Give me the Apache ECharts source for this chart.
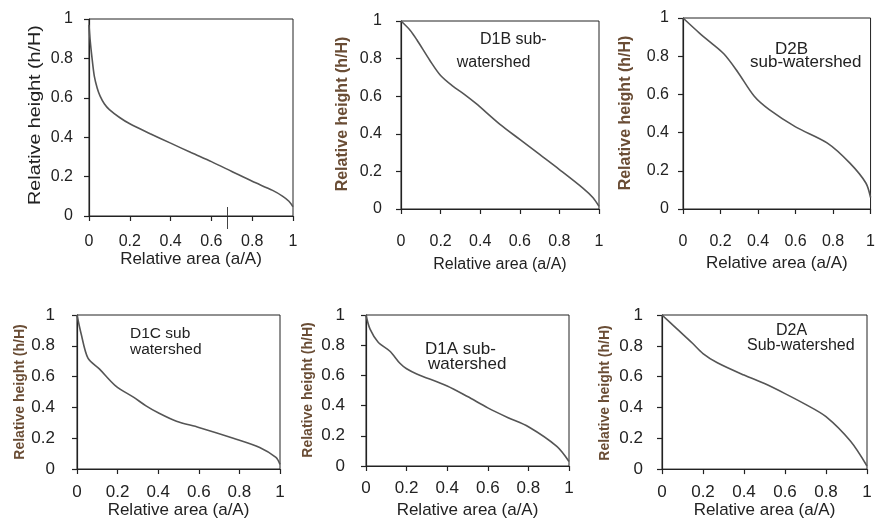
<!DOCTYPE html>
<html><head><meta charset="utf-8">
<script src="https://cdn.jsdelivr.net/npm/echarts@6/dist/echarts.min.js"></script>
<style>html,body{margin:0;padding:0;background:#fff}#c{width:878px;height:520px}</style>
</head><body><div id="c"></div>
<script>
const xTicks = [0, 0.2, 0.4, 0.6, 0.8, 1];
const yTicks = [0, 0.2, 0.4, 0.6, 0.8, 1];
const panelLine1 = ["", "D1B sub-", "D2B", "D1C sub", "D1A sub-", "D2A"];
const panelLine2 = ["", "watershed", "sub-watershed", "watershed", "watershed", "Sub-watershed"];
const xTitle = "Relative area (a/A)";
const yTitle = "Relative height (h/H)";

const p1A = [0,0.005,0.015,0.026,0.04,0.054,0.075,0.1,0.15,0.2,0.3,0.4,0.5,0.6,0.7,0.8,0.9,0.95,0.98,1];
const p1H = [0.97,0.9,0.8,0.71,0.65,0.61,0.57,0.54,0.5,0.468,0.418,0.37,0.322,0.276,0.226,0.176,0.13,0.1,0.075,0.047];
const p2A = [0,0.047,0.08,0.146,0.2,0.26,0.32,0.38,0.5,0.6,0.7,0.8,0.92,0.97,1];
const p2H = [1,0.95,0.90,0.79,0.71,0.655,0.61,0.56,0.45,0.37,0.29,0.21,0.11,0.06,0.014];
const p3A = [0,0.089,0.15,0.22,0.29,0.38,0.46,0.6,0.77,0.89,0.975,1];
const p3H = [1,0.92,0.87,0.81,0.72,0.59,0.52,0.43,0.345,0.24,0.136,0.06];
const p4A = [0,0.02,0.054,0.11,0.19,0.28,0.34,0.4,0.49,0.6,0.77,0.9,0.98,1];
const p4H = [1,0.88,0.72,0.65,0.54,0.465,0.41,0.365,0.31,0.27,0.20,0.14,0.075,0.03];
const p5A = [0,0.02,0.06,0.118,0.167,0.2,0.25,0.4,0.5,0.6,0.7,0.8,0.94,1];
const p5H = [1,0.906,0.82,0.76,0.68,0.644,0.61,0.53,0.46,0.385,0.32,0.26,0.13,0.03];
const p6A = [0,0.073,0.15,0.2,0.27,0.4,0.5,0.6,0.7,0.8,0.92,1];
const p6H = [1,0.91,0.815,0.75,0.69,0.61,0.555,0.49,0.42,0.34,0.18,0.02];

const seriesA = [p1A,p2A,p3A,p4A,p5A,p6A];
const seriesH = [p1H,p2H,p3H,p4H,p5H,p6H];

const FONT = "Liberation Sans";
const BROWN = "#6a4d35";
// layout
const grids = [
  {left:89, top:19, width:204, height:197},
  {left:401, top:21, width:198, height:188},
  {left:683, top:18, width:197, height:191},
  {left:77, top:315, width:203, height:156},
  {left:366, top:315, width:203, height:159},
  {left:662, top:315, width:205, height:157}
];
const tickFont = [16, 16, 16, 17, 17, 17];
const titleFont = [17, 16, 17, 17, 17, 17];
const xLabelMargin = [18, 25, 25, 15, 14, 15];
const xNameGap = [34, 48, 46, 33, 36, 32];
const yLabelMargin = [16, 19, 14, 22, 21, 19];
// y title: center x, center y, font size, weight, scaleX, color
const yTitlePos = [
  [35.7, 115, 17, 'normal', 1.16, '#222'],
  [342.5, 114, 16, 'bold', 1.0, BROWN],
  [625.7, 113, 16, 'bold', 1.0, BROWN],
  [20, 392, 14, 'bold', 1.0, BROWN],
  [308, 390, 14, 'bold', 1.0, BROWN],
  [605, 393, 14, 'bold', 1.0, BROWN]
];
// annotation lines: [x1, y1, x2, y2, fontSize]
const annotPos = [null,
  [480, 39.4, 456.7, 62.4, 16],
  [775, 49, 750, 62.3, 17],
  [130, 334, 130, 349.6, 15.5],
  [425, 349, 428, 364, 17],
  [776, 330.4, 747, 346, 16]
];

const graphics = [];
yTitlePos.forEach(p => {
  graphics.push({type:'text', x:p[0], y:p[1], rotation:Math.PI/2, scaleX:p[4], silent:true,
    style:{text:yTitle, fontFamily:FONT, fontSize:p[2], fontWeight:p[3], fill:p[5], align:'center', verticalAlign:'middle'}});
});
annotPos.forEach((p,i) => {
  if (!p) return;
  graphics.push({type:'text', x:p[0], y:p[1], silent:true,
    style:{text:panelLine1[i], fontFamily:FONT, fontSize:p[4], fill:'#222', align:'left', verticalAlign:'middle'}});
  graphics.push({type:'text', x:p[2], y:p[3], silent:true,
    style:{text:panelLine2[i], fontFamily:FONT, fontSize:p[4], fill:'#222', align:'left', verticalAlign:'middle'}});
});
// stray vertical mark present in the first panel of the source figure
graphics.push({type:'line', silent:true, shape:{x1:227.5, y1:207, x2:227.5, y2:229}, style:{stroke:'#444', lineWidth:1}});

const option = {
  animation:false,
  backgroundColor:'#fff',
  grid: grids.map(g => Object.assign({show:true, borderColor:'#222', borderWidth:1, backgroundColor:'transparent'}, g)),
  xAxis: grids.map((g,i) => ({
    type:'value', gridIndex:i, min:0, max:1, interval:0.2,
    name:xTitle, nameLocation:'middle', nameGap:xNameGap[i],
    nameTextStyle:{fontFamily:FONT, fontSize:titleFont[i], color:'#222'},
    axisLine:{show:true, lineStyle:{color:'#222', width:1.2}},
    axisTick:{show:true, length:5, lineStyle:{color:'#222', width:1.2}},
    axisLabel:{fontFamily:FONT, fontSize:tickFont[i], color:'#222', margin:xLabelMargin[i],
      formatter: v => String(Math.round(v*10)/10)},
    splitLine:{show:false}
  })),
  yAxis: grids.map((g,i) => ({
    type:'value', gridIndex:i, min:0, max:1, interval:0.2,
    axisLine:{show:true, lineStyle:{color:'#222', width:1.2}},
    axisTick:{show:true, length:5, lineStyle:{color:'#222', width:1.2}},
    axisLabel:{fontFamily:FONT, fontSize:tickFont[i], color:'#222', margin:yLabelMargin[i],
      formatter: v => String(Math.round(v*10)/10)},
    splitLine:{show:false}
  })),
  series: seriesA.map((A,i) => ({
    type:'line', xAxisIndex:i, yAxisIndex:i, smooth:0.3, symbol:'none',
    lineStyle:{color:'#555', width:1.6},
    data: A.map((a,k) => [a, seriesH[i][k]])
  })),
  graphic: graphics
};
const chart = echarts.init(document.getElementById('c'), null, {renderer:'canvas'});
chart.setOption(option);
</script>
</body></html>
